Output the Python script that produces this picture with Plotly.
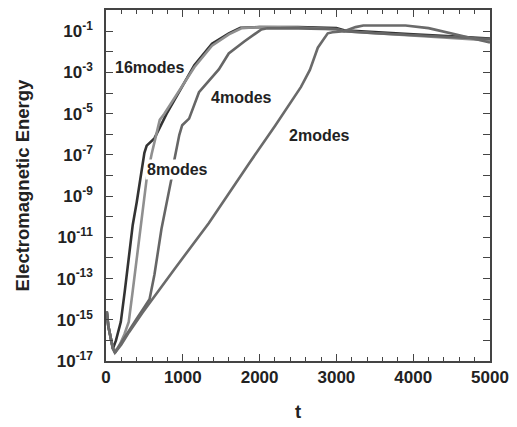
import plotly.graph_objects as go

# ---- data (t, log10 of electromagnetic energy) ----
t_16 = [0, 10, 30, 60, 90, 130, 193, 245, 296, 348, 400, 464, 500, 530, 630, 790, 990, 1150, 1380, 1600, 1750, 2000, 2500, 3000, 3100, 3500, 4000, 4500, 5000]
e_16 = [-15.0, -14.6, -15.3, -15.9, -16.4, -16.0, -15.1, -13.6, -12.0, -10.4, -9.3, -7.6, -6.9, -6.55, -6.2, -5.0, -3.68, -2.65, -1.61, -1.1, -0.83, -0.8, -0.8, -0.85, -0.95, -1.05, -1.15, -1.25, -1.35]

t_8 = [0, 10, 30, 60, 90, 130, 180, 240, 296, 348, 438, 528, 593, 640, 700, 760, 900, 1150, 1380, 1600, 1770, 2000, 2500, 3000, 3100, 3500, 4000, 4500, 5000]
e_8 = [-15.0, -14.6, -15.3, -15.9, -16.4, -16.5, -16.2, -15.7, -15.1, -13.6, -10.9, -8.2, -6.98, -6.2, -5.3, -5.0, -4.2, -2.75, -1.7, -1.15, -0.85, -0.8, -0.82, -0.9, -1.0, -1.1, -1.2, -1.35, -1.45]

t_4 = [0, 10, 30, 60, 90, 116, 200, 300, 400, 480, 567, 631, 722, 850, 889, 954, 992, 1082, 1211, 1469, 1598, 1800, 1946, 2023, 2100, 2500, 3000, 3100, 3500, 4000, 4500, 5000]
e_4 = [-15.0, -14.6, -15.3, -15.9, -16.4, -16.6, -16.1, -15.5, -14.95, -14.5, -14.0, -12.8, -10.6, -8.2, -7.26, -6.04, -5.56, -5.24, -3.96, -2.85, -2.08, -1.5, -1.1, -0.91, -0.86, -0.86, -0.9, -1.0, -1.1, -1.2, -1.3, -1.38]

t_2 = [0, 10, 30, 60, 90, 116, 200, 300, 477, 900, 1340, 1856, 2200, 2539, 2655, 2758, 2887, 2950, 3100, 3250, 3350, 3900, 4200, 4600, 5000]
e_2 = [-15.0, -14.6, -15.3, -15.9, -16.4, -16.6, -16.2, -15.6, -14.65, -12.5, -10.3, -7.45, -5.6, -3.7, -2.88, -1.8, -1.1, -1.05, -1.0, -0.8, -0.72, -0.72, -0.85, -1.2, -1.55]

series_names = ["16modes", "8modes", "4modes", "2modes"]
label_t = [567, 928, 1765, 2784]
label_e = [-2.74, -7.73, -4.2, -6.04]

labelled_exps = list(range(-17, 0, 2))
minor_exps = list(range(-16, 1, 2))
x_major = [0, 1000, 2000, 3000, 4000, 5000]

fig = go.Figure()
colors = ["#333333", "#8f8f8f", "#666666", "#6a6a6a"]
for name, t, e, c in zip(series_names, [t_16, t_8, t_4, t_2], [e_16, e_8, e_4, e_2], colors):
    fig.add_trace(go.Scatter(
        x=t, y=[10 ** v for v in e], mode="lines", name=name,
        line=dict(color=c, width=2.6),
    ))

for name, lt, le in zip(series_names, label_t, label_e):
    fig.add_annotation(
        x=lt, y=le, xref="x", yref="y", text=name, showarrow=False,
        font=dict(family="Liberation Sans", size=16, color="#222222", weight="bold"),
        bgcolor="white", borderpad=1,
    )

axis_font = dict(family="Liberation Sans", size=17, color="#222222", weight="bold")
title_font = dict(family="Liberation Sans", size=18.5, color="#222222", weight="bold")

fig.update_layout(
    width=517, height=427,
    margin=dict(l=106, r=23, t=8, b=57),
    paper_bgcolor="white", plot_bgcolor="white",
    showlegend=False,
    xaxis=dict(
        range=[0, 5000], tickmode="array", tickvals=x_major,
        ticks="inside", ticklen=7, tickwidth=1.3, tickcolor="#444",
        minor=dict(dtick=200, ticks="inside", ticklen=4, tickwidth=1.2, tickcolor="#444"),
        showline=True, linecolor="#444", linewidth=1.5, mirror="ticks",
        showgrid=False, zeroline=False, tickfont=axis_font,
        title=dict(text="t", font=title_font, standoff=19),
    ),
    yaxis=dict(
        type="log", range=[-17, 0.03], tickmode="array",
        tickvals=[10.0 ** k for k in labelled_exps],
        ticktext=["10<sup>%d</sup>" % k for k in labelled_exps],
        ticks="inside", ticklen=7, tickwidth=1.3, tickcolor="#444",
        ticklabelstandoff=8,
        minor=dict(tickmode="array", tickvals=[10.0 ** k for k in minor_exps],
                   ticks="inside", ticklen=7, tickwidth=1.3, tickcolor="#444"),
        showline=True, linecolor="#444", linewidth=1.5, mirror="ticks",
        showgrid=False, zeroline=False, tickfont=axis_font,
        title=dict(text="Electromagnetic Energy", font=title_font, standoff=22),
    ),
)

fig.write_html("out.html", config={"displayModeBar": False},
               post_script="document.body.style.margin='0';")
